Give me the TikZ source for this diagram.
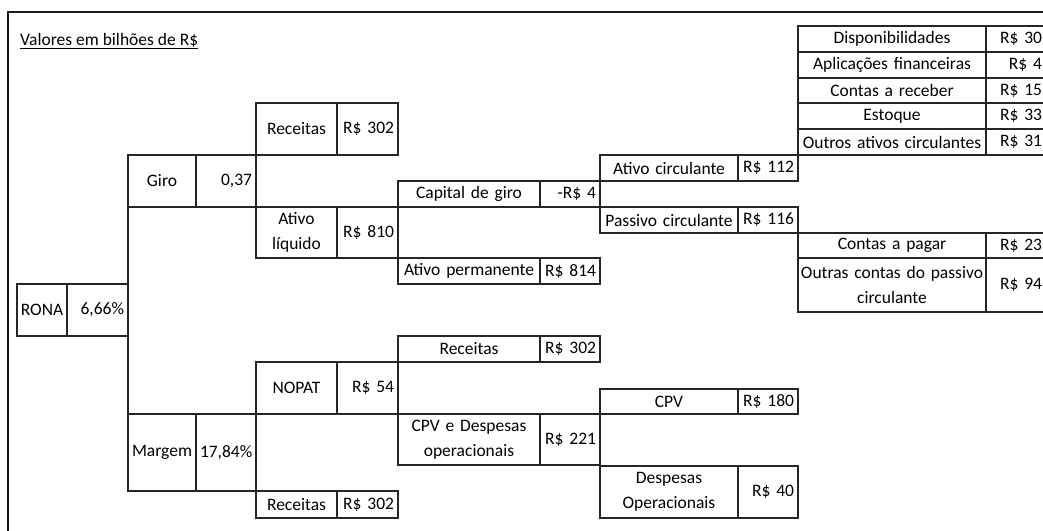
\documentclass[tikz,border=0pt]{standalone}
\usepackage{fontspec}
\setmainfont{Carlito}
\hyphenpenalty=10000
\begin{document}
\begin{tikzpicture}[x=1pt,y=-1pt,
  line join=miter,
  cellbase/.style={draw=black!85, line width=1.3pt, outer sep=0pt,
    inner ysep=0pt, anchor=north west,
    font=\fontsize{17.5}{25}\selectfont, text=black},
  lab/.style={cellbase, inner xsep=1pt, align=center},
  val/.style={cellbase, inner xsep=4pt, align=right},
  wire/.style={draw=black!85, line width=1.3pt},
  frame/.style={draw=black!90, line width=1.6pt}]
% page size and clipping
\useasboundingbox (0,0) rectangle (1043,530);
\clip (0,0) rectangle (1043,530);
\fill[white] (0,0) rectangle (1043,530);

% a label cell and its value cell side by side:
% name, x, y, label width, value width, height, label, value
\newcommand\cellpair[8]{%
  \pgfmathsetmacro\lw{#4-2}%
  \pgfmathsetmacro\vw{#5-8}%
  \node[lab, text width=\lw pt, minimum height=#6pt] (#1L) at (#2,#3) {#7};
  \node[val, text width=\vw pt, minimum height=#6pt] (#1V) at (#1L.north east) {#8};
}

% outer frame
\draw[frame] (8,545) -- (8,12) -- (1060,12);

% heading
\node[anchor=base west, inner sep=0pt, font=\fontsize{17.5}{25}\selectfont, text=black]
  (title) at (20,45) {\underline{Valores em bilhões de R\$}};

% level 0
\cellpair{rona}{17}{284}{50}{61}{52}{RONA}{6,66\%}
% level 1
\cellpair{giro}{128}{155}{68}{60}{52}{Giro}{0,37}
\cellpair{marg}{128}{414}{68}{60}{77}{Margem}{17,84\%}
% level 2
\cellpair{recA}{256}{103}{81}{61}{52}{Receitas}{R\$ 302}
\cellpair{aliq}{256}{207}{81}{61}{51}{Ativo\\líquido}{R\$ 810}
\cellpair{nopat}{256}{362}{81}{61}{52}{NOPAT}{R\$ 54}
\cellpair{recC}{256}{491}{81}{61}{27}{Receitas}{R\$ 302}
% level 3
\cellpair{cap}{398}{181}{142}{60}{26}{Capital de giro}{-R\$ 4}
\cellpair{aperm}{398}{258}{142}{60}{26}{Ativo permanente}{R\$ 814}
\cellpair{recB}{398}{336}{142}{60}{26}{Receitas}{R\$ 302}
\cellpair{cpvd}{398}{414}{142}{60}{51}{CPV e Despesas\\operacionais}{R\$ 221}
% level 4
\cellpair{ac}{600}{155}{138}{60}{26}{Ativo circulante}{R\$ 112}
\cellpair{pc}{600}{207}{138}{60}{26}{Passivo circulante}{R\$ 116}
\cellpair{cpv}{600}{389}{138}{60}{25}{CPV}{R\$ 180}
\cellpair{dop}{600}{466}{138}{60}{52}{Despesas\\Operacionais}{R\$ 40}
% level 5
\cellpair{disp}{798}{26}{188}{60}{26}{Disponibilidades}{R\$ 30}
\cellpair{apl}{798}{52}{188}{60}{26}{Aplicações financeiras}{R\$ 4}
\cellpair{crec}{798}{78}{188}{60}{25}{Contas a receber}{R\$ 15}
\cellpair{est}{798}{103}{188}{60}{26}{Estoque}{R\$ 33}
\cellpair{oac}{798}{129}{188}{60}{26}{Outros ativos circulantes}{R\$ 31}
\cellpair{cpag}{798}{233}{188}{60}{25}{Contas a pagar}{R\$ 23}
\cellpair{opc}{798}{258}{188}{60}{54}{Outras contas do passivo\\circulante}{R\$ 94}

% brackets joining each pair of parts
\draw[wire] (giroL.north west) -- (margL.south west);
\draw[wire] (recAL.north west) -- (aliqL.south west);
\draw[wire] (nopatL.north west) -- (recCL.south west);
\draw[wire] (capL.north west) -- (apermL.south west);
\draw[wire] (recBL.north west) -- (cpvdL.south west);
\draw[wire] (acL.north west) -- (pcL.south west);
\draw[wire] (cpvL.north west) -- (dopL.south west);
\draw[wire] (dispL.north west) -- (acV.south east);
\draw[wire] (pcV.north east) -- (opcL.south west);
\end{tikzpicture}
\end{document}
